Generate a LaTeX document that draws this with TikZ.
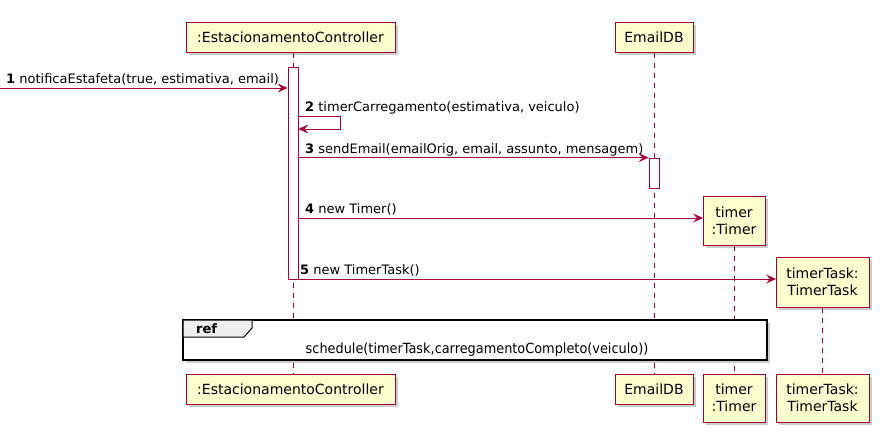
\documentclass[tikz,border=0pt]{standalone}
\usepackage{fontspec}
\setmainfont{DejaVu Sans}
\usetikzlibrary{arrows.meta,shadows}
\definecolor{umlred}{HTML}{A80036}
\definecolor{umlfill}{HTML}{FEFECE}
\definecolor{reftab}{HTML}{EEEEEE}
\tikzset{
  part/.style={draw=umlred,fill=umlfill,line width=1pt,inner xsep=5pt,align=center,
    font=\fontsize{14}{17}\selectfont,
    drop shadow={shadow xshift=3pt,shadow yshift=-3pt,fill=black!40}},
  life/.style={umlred,dash pattern=on 5pt off 5pt,line width=0.8pt},
  msg/.style={umlred,line width=0.8pt,-{Stealth[length=10pt,width=9pt,inset=4pt]}},
  lbl/.style={font=\fontsize{13}{15}\selectfont,inner sep=0pt,anchor=base west},
  actbar/.style={draw=umlred,fill=white,line width=0.8pt,minimum width=10pt,inner sep=0pt}
}
\begin{document}
\begin{tikzpicture}[x=1pt,y=-1pt]
\useasboundingbox (0,0) rectangle (883,434);
% participants
\node[part,minimum width=209pt,minimum height=30pt] (ctrlTop) at (290.5,37) {:EstacionamentoController};
\node[part,minimum width=78pt,minimum height=30pt] (emailTop) at (654,37) {EmailDB};
\node[part,minimum width=62pt,minimum height=49pt] (timerTop) at (734,220.5) {timer\\:Timer};
\node[part,minimum width=93pt,minimum height=50pt] (taskTop) at (822.5,282) {timerTask:\\TimerTask};
\node[part,minimum width=209pt,minimum height=30pt] (ctrlBot) at (290.5,389) {:EstacionamentoController};
\node[part,minimum width=78pt,minimum height=30pt] (emailBot) at (654,389) {EmailDB};
\node[part,minimum width=62pt,minimum height=48pt] (timerBot) at (734,398) {timer\\:Timer};
\node[part,minimum width=93pt,minimum height=48pt] (taskBot) at (822.5,398) {timerTask:\\TimerTask};
% lifelines
\coordinate (ctrlX) at (293,0);
\draw[life](ctrlX|-ctrlTop.south)--(ctrlX|-ctrlBot.north);
\draw[life](emailTop.south)--(emailBot.north);
\draw[life](timerTop.south)--(timerBot.north);
\draw[life](taskTop.south)--(taskBot.north);
% activations
\node[actbar,minimum height=212pt] (ctrlAct) at (ctrlX|-0,173) {};
\node[actbar,minimum height=30pt] (emailAct) at (654,173) {};
% messages
\coordinate (in1) at (0,88);
\draw[msg](in1)--(ctrlAct.west|-in1);
\node[lbl] (lbl1) at (6,83) {\textbf{1} notificaEstafeta(true, estimativa, email)};
\coordinate (self2a) at (340,116);
\coordinate (self2b) at (340,129);
\draw[msg](ctrlAct.east|-self2a)--(self2a)--(self2b)--(ctrlAct.east|-self2b);
\node[lbl] (lbl2) at (305,111) {\textbf{2} timerCarregamento(estimativa, veiculo)};
\draw[msg](ctrlAct.east|-emailAct.north)--(emailAct.north west);
\node[lbl] (lbl3) at (305,153) {\textbf{3} sendEmail(emailOrig, email, assunto, mensagem)};
\coordinate (new4) at (703,218);
\draw[msg](ctrlAct.east|-new4)--(new4);
\node[lbl] (lbl4) at (305,213) {\textbf{4} new Timer()};
\coordinate (new5) at (776,279);
\draw[msg](ctrlAct.south east|-new5)--(new5);
\node[lbl] (lbl5) at (300,274) {\textbf{5} new TimerTask()};
% ref frame
\draw[line width=1.5pt,fill=white,drop shadow={shadow xshift=3pt,shadow yshift=-3pt,fill=black!40}]
  (183,320) rectangle (767,360);
\draw[line width=1pt,fill=reftab](183,320)--(252,320)--(252,328)--(244,337)--(183,337)--cycle;
\node[lbl,font=\fontsize{13}{15}\selectfont\bfseries] (reflbl) at (196,333) {ref};
\node[font=\fontsize{14}{16}\selectfont,inner sep=0pt,anchor=base] (refcall) at (477,353)
  {\scalebox{0.92}[1]{schedule(timerTask,carregamentoCompleto(veiculo))}};
\end{tikzpicture}
\end{document}
